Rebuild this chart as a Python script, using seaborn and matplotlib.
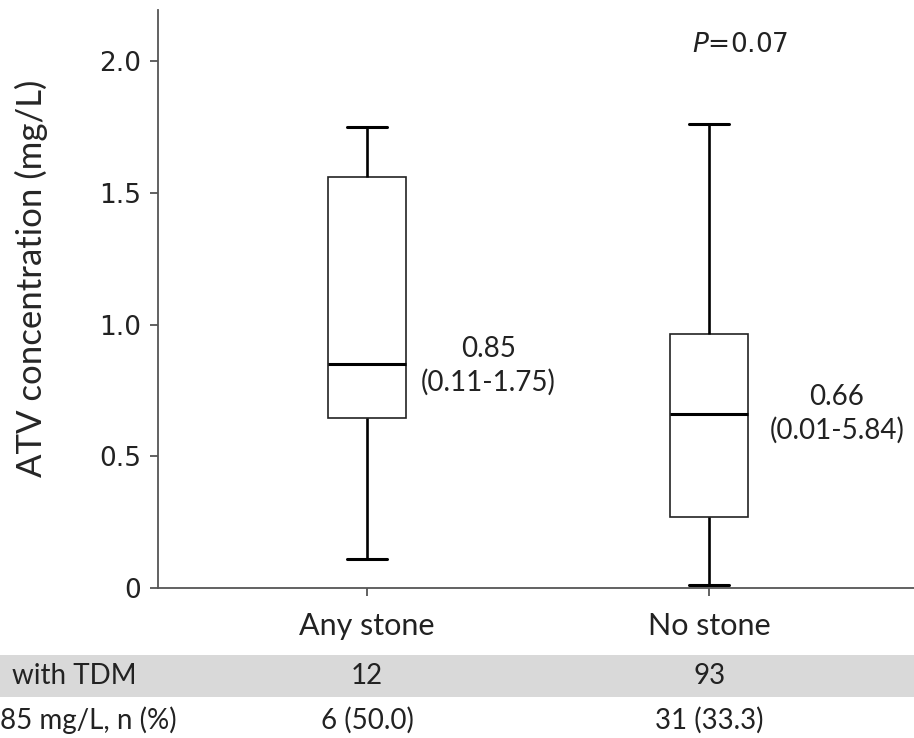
import pandas as pd
import matplotlib.pyplot as plt
import matplotlib.transforms as mtransforms
from matplotlib.patches import Rectangle
import seaborn as sns

# values (5-number summaries per group)
groups = ["Any stone", "No stone"]
any_stone = [0.11, 0.645, 0.85, 1.56, 1.75]
no_stone = [0.01, 0.27, 0.66, 0.965, 1.76]
median_labels = ["0.85\n(0.11-1.75)", "0.66\n(0.01-5.84)"]
row_labels = ["with TDM", "85 mg/L, n (%)"]
n_tdm = ["12", "93"]
n_above = ["6 (50.0)", "31 (33.3)"]
p_text = "$\\it{P}$=0.07"

df = pd.DataFrame({
    "group": [groups[0]] * len(any_stone) + [groups[1]] * len(no_stone),
    "conc": any_stone + no_stone,
})

sns.set_style("ticks")
plt.rcParams["font.family"] = ["Lato", "DejaVu Sans"]

fig = plt.figure(figsize=(9.14, 7.38), dpi=100)
ax = fig.add_axes([0.1729, 0.2033, 0.8271, 0.7831])

sns.boxplot(data=df, x="group", y="conc", order=groups, ax=ax,
            width=0.23, whis=(0, 100), showfliers=False,
            color="white", linecolor="black",
            boxprops={"linewidth": 1.2, "edgecolor": "#222222"},
            whiskerprops={"linewidth": 1.9, "color": "black"},
            capprops={"linewidth": 2.2, "color": "black"},
            medianprops={"linewidth": 2.2, "color": "black"})

ax.set_xlim(-0.611, 1.599)
ax.set_ylim(0, 2.194)
ax.set_yticks([0, 0.5, 1.0, 1.5, 2.0])
ax.set_yticklabels(["0", "0.5", "1.0", "1.5", "2.0"], family="DejaVu Sans", fontsize=19)
ax.set_xticks([0, 1])
ax.set_xticklabels(groups, fontsize=22)
ax.set_xlabel("")
ax.set_ylabel("ATV concentration (mg/L)", fontsize=25)
ax.yaxis.set_label_coords(-0.145, 0.535)

for side in ["top", "right"]:
    ax.spines[side].set_visible(False)
for side in ["left", "bottom"]:
    ax.spines[side].set_color("#555555")
    ax.spines[side].set_linewidth(1.3)
ax.tick_params(axis="both", direction="out", length=6, width=1.3, color="#555555",
               labelcolor="#222222")
ax.tick_params(axis="x", pad=11)
ax.tick_params(axis="y", pad=6)

# median / range annotations
ax.text(0.354, 0.842, median_labels[0], ha="center", va="center",
        multialignment="center", fontsize=20, color="#222222", linespacing=1.3)
ax.text(1.374, 0.660, median_labels[1], ha="center", va="center",
        multialignment="center", fontsize=20, color="#222222", linespacing=1.3)
ax.text(1.09, 2.06, p_text, ha="center", va="center", fontsize=19,
        family="DejaVu Sans", color="#222222")

# table under the axis
fig.add_artist(Rectangle((0, 0.0556), 1, 0.0569, transform=fig.transFigure,
                         facecolor="#d9d9d9", edgecolor="none", zorder=0))
trans = mtransforms.blended_transform_factory(ax.transData, fig.transFigure)
fig.text(0.013, 0.084, row_labels[0], ha="left", va="center", fontsize=20, color="#222222")
fig.text(0.0, 0.0244, row_labels[1], ha="left", va="center", fontsize=20, color="#222222")
for i in range(len(groups)):
    ax.text(i, 0.084, n_tdm[i], transform=trans, ha="center", va="center",
            fontsize=20, color="#222222", clip_on=False)
    ax.text(i, 0.0244, n_above[i], transform=trans, ha="center", va="center",
            fontsize=20, color="#222222", clip_on=False)

fig.savefig("out.png", dpi=100)
